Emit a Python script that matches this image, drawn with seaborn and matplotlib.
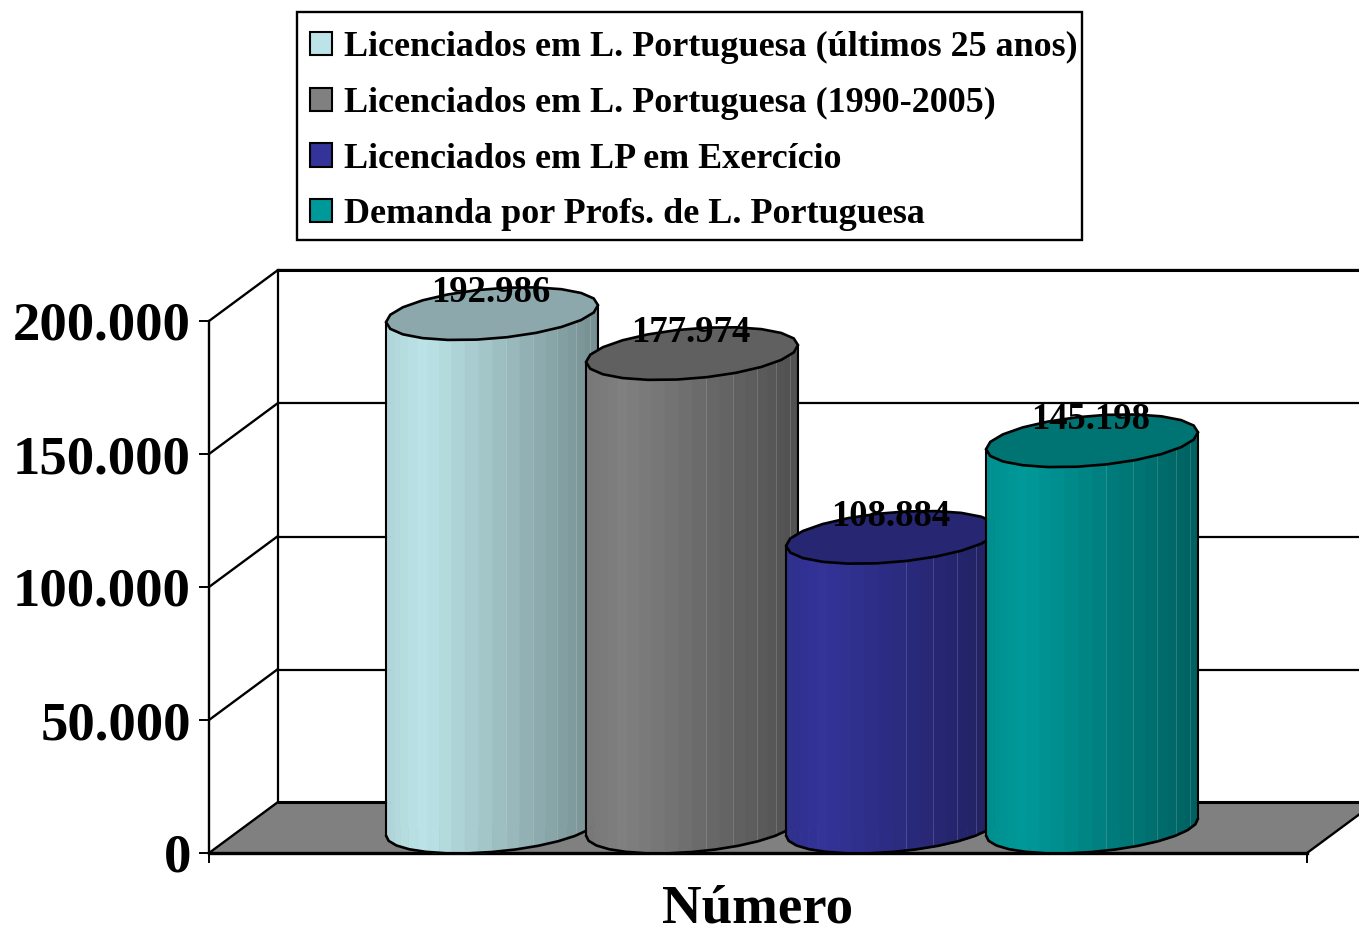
import numpy as np
import pandas as pd
import matplotlib
matplotlib.use('Agg')
import matplotlib.pyplot as plt
from matplotlib.patches import Patch, Polygon, Rectangle
from matplotlib.colors import to_rgb
import seaborn as sns

# dados
series = ['Licenciados em L. Portuguesa (últimos 25 anos)',
          'Licenciados em L. Portuguesa (1990-2005)',
          'Licenciados em LP em Exercício',
          'Demanda por Profs. de L. Portuguesa']
valores = [192986, 177974, 108884, 145198]
categoria = 'Número'
ticks_y = [0, 50000, 100000, 150000, 200000]
cores = ['#BCE4E8', '#808080', '#333399', '#009999']
cores_topo = ['#8CA8AC', '#606060', '#262673', '#007373']

W, H = 1359, 931
Y_MAX = 200000

sns.set_style('white')
plt.rcParams['font.family'] = ['Liberation Serif', 'DejaVu Serif']
plt.rcParams['font.weight'] = 'bold'
plt.rcParams['text.color'] = 'black'
plt.rcParams['axes.labelcolor'] = 'black'
plt.rcParams['xtick.color'] = 'black'
plt.rcParams['ytick.color'] = 'black'


def eixo(x0, x1, y_base, y_topo, zorder):
    # cria um eixo a partir de posicoes em pixels
    ax = fig.add_axes([x0 / W, 1 - y_base / H, (x1 - x0) / W, (y_base - y_topo) / H])
    ax.set_xlim(-0.5, 0.5)
    ax.set_ylim(0, Y_MAX)
    ax.patch.set_alpha(0)
    ax.set_zorder(zorder)
    return ax


def fmt(v):
    return f'{v:,}'.replace(',', '.')


fig = plt.figure(figsize=(W / 100, H / 100), dpi=100, facecolor='white')

# parede do fundo
ax_fundo = eixo(278, 1376, 803, 270, 0)
ax_fundo.set_yticks(ticks_y)
ax_fundo.set_xticks([])
ax_fundo.set_yticklabels([])
ax_fundo.tick_params(left=False)
ax_fundo.grid(axis='y', color='black', lw=1.6, clip_on=False)
for s in ['right', 'bottom']:
    ax_fundo.spines[s].set_visible(False)
ax_fundo.spines['left'].set_linewidth(1.6)
ax_fundo.spines['top'].set_linewidth(2.2)
ax_fundo.spines['top'].set_color('black')
ax_fundo.spines['left'].set_color('black')

# plano da frente com a escala, chao e diagonais
ax = eixo(209, 1307, 853, 321, 1)
dx = 69 / 1098
dy = 51 / 532 * Y_MAX
ax.add_patch(Polygon([(-0.5, 0), (-0.5 + dx, dy), (0.5 + dx, dy), (0.5, 0)],
                     closed=True, facecolor='#808080', edgecolor='none', clip_on=False, zorder=0))
ax.plot([-0.5 + dx, 0.5 + dx], [dy, dy], color='black', lw=2.2, clip_on=False, zorder=1)
for t in ticks_y:
    ax.plot([-0.5, -0.5 + dx], [t, t + dy], color='black', lw=1.7, clip_on=False, zorder=1)
ax.plot([0.5, 0.5 + dx], [0, dy], color='black', lw=1.7, clip_on=False, zorder=1)
ax.set_yticks(ticks_y)
ax.set_yticklabels([fmt(t) for t in ticks_y], fontsize=39.4, fontweight='bold')
ax.set_xticks([-0.5, 0.5])
ax.set_xticklabels([])
ax.tick_params(axis='both', length=7, width=1.4, color='black', bottom=True, left=True, pad=6)
ax.set_xlabel(categoria, fontsize=39.5, fontweight='bold', labelpad=9.5)
for s in ['top', 'right']:
    ax.spines[s].set_visible(False)
ax.spines['left'].set_color('black')
ax.spines['bottom'].set_color('black')
ax.spines['left'].set_linewidth(1.7)
ax.spines['bottom'].set_linewidth(2.4)

# cilindros: barras do seaborn no plano do meio
ax_barras = eixo(243, 1341, 827, 295, 2)
df = pd.DataFrame({'categoria': [categoria] * 4, 'serie': series, 'valor': valores})
sns.barplot(data=df, x='categoria', y='valor', hue='serie', hue_order=series, palette=cores,
            width=800 / 1098, gap=0, saturation=1, legend=False, ax=ax_barras)
ax_barras.set_xlim(-0.5, 0.5)
ax_barras.set_ylim(0, Y_MAX)
ax_barras.axis('off')

px_x = 1 / 1098
px_y = Y_MAX / 532
a = 106 * px_x
b = 25 * px_y
incl = 8.5 * px_y

angulos = np.linspace(np.pi, 0, 25)
borda_u = np.cos(angulos)


def frente(u, base):
    return base + incl * u - b * np.sqrt(np.clip(1 - u ** 2, 0, 1))


for i, cont in enumerate(ax_barras.containers):
    barra = cont[0]
    cx = barra.get_x() + barra.get_width() / 2
    v = barra.get_height()
    rgb = np.array(to_rgb(cores[i]))
    z = 3 + i
    for k in range(len(borda_u) - 1):
        u = borda_u[k:k + 2]
        t = (u.mean() + 1) / 2
        luz = 0.93 + 0.07 * t / 0.18 if t < 0.18 else 1 - 0.38 * (t - 0.18) / 0.82
        c = np.clip(rgb * luz, 0, 1)
        ax_barras.fill_between(cx + a * u, frente(u, 0), frente(u, v), color=c, lw=0.4,
                               clip_on=False, zorder=z)
        # filetes claros entre as faixas, como no original
        if t > 0.5 and k % 2 == 0:
            ax_barras.plot([cx + a * u[1]] * 2, [frente(u[1:], 0)[0], frente(u[1:], v)[0]],
                           color='white', alpha=0.18, lw=0.6, clip_on=False, zorder=z + 0.05)
    uu = np.cos(np.linspace(np.pi, 0, 15))
    ax_barras.plot(cx + a * uu, frente(uu, 0), color='black', lw=1.9, clip_on=False, zorder=z + 0.1)
    ax_barras.plot([cx - a, cx - a], [-incl, v - incl], color='black', lw=1.5, clip_on=False, zorder=z + 0.1)
    ax_barras.plot([cx + a, cx + a], [incl, v + incl], color='black', lw=1.5, clip_on=False, zorder=z + 0.1)
    tt = np.linspace(0, 2 * np.pi, 23)
    tampa = np.column_stack([cx + a * np.cos(tt), v + incl * np.cos(tt) + b * np.sin(tt)])
    ax_barras.add_patch(Polygon(tampa, closed=True, facecolor=cores_topo[i], edgecolor='black',
                                lw=1.9, clip_on=False, zorder=z + 0.2))

for i, cont in enumerate(ax_barras.containers):
    barra = cont[0]
    ax_barras.text(barra.get_x() + barra.get_width() / 2 - 1.5 * px_x, barra.get_height() + 21 * px_y,
                   fmt(valores[i]), ha='center', va='center', fontsize=26.4, fontweight='bold',
                   color='black', zorder=20, clip_on=False)

# legenda
fig.add_artist(Rectangle((297 / W, 1 - 240 / H), 785 / W, 228 / H, transform=fig.transFigure,
                         facecolor='white', edgecolor='black', lw=1.7))
handles = [Patch(facecolor=c, edgecolor='black', lw=1.5) for c in cores]
leg = fig.legend(handles, series, loc='upper left', bbox_to_anchor=(297 / W, 1 - 18 / H),
                 bbox_transform=fig.transFigure, fontsize=25.9, frameon=False, borderpad=0.37,
                 labelspacing=0.63, handlelength=0.61, handleheight=0.61, handletextpad=0.33,
                 borderaxespad=0, labelcolor='black')

fig.savefig('out.png', dpi=100)
